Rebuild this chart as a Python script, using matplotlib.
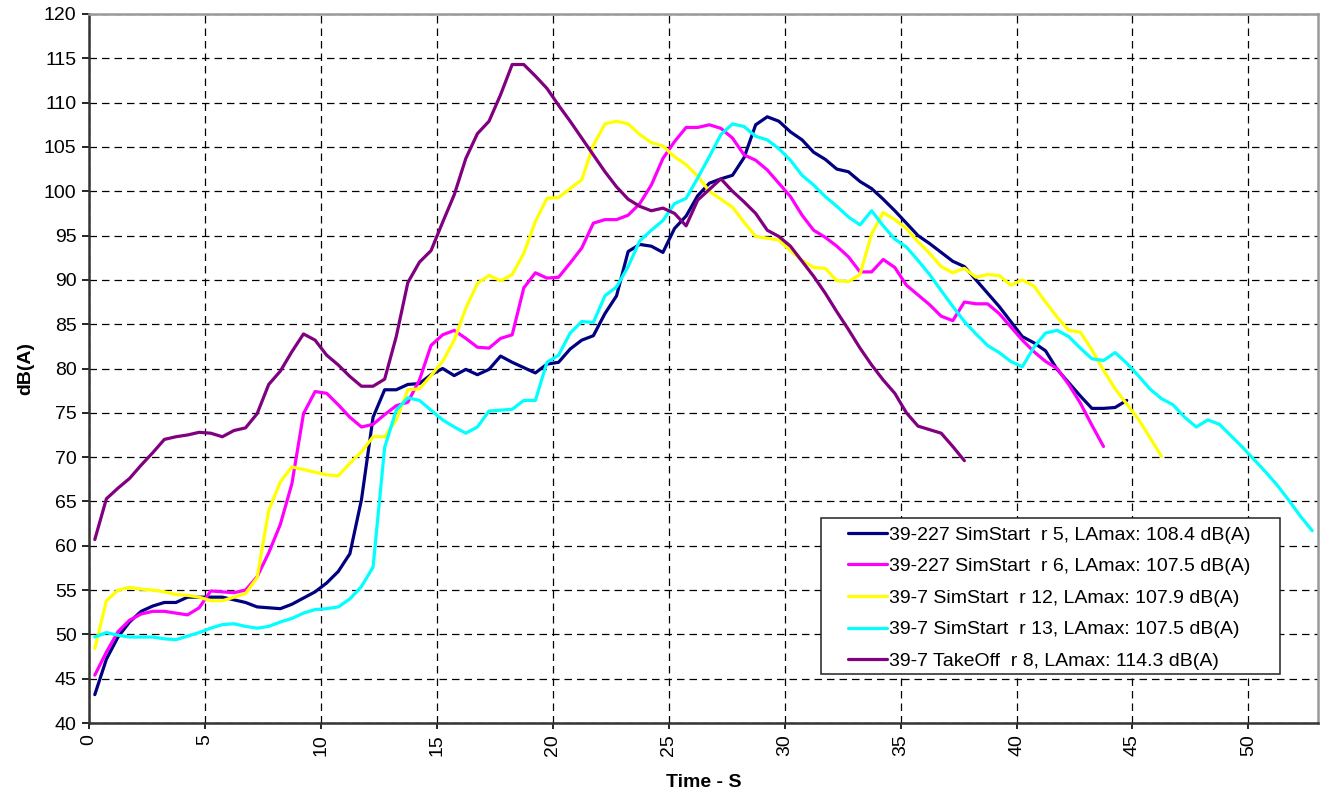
import numpy as np
import matplotlib
matplotlib.use('Agg')
import matplotlib.pyplot as plt
from matplotlib.patches import Rectangle

plt.rcParams['font.family'] = ['Liberation Sans', 'DejaVu Sans']

# samples every 0.5 s, first one at 0.25 s
T0 = 0.25
DT = 0.5

r5_227 = [43.2, 47.2, 49.7, 51.4, 52.6, 53.2, 53.6, 53.6, 54.2, 54.2,
          54.2, 54.2, 53.9, 53.6, 53.1, 53.0, 52.9, 53.4, 54.1, 54.8,
          55.8, 57.1, 59.1, 65.2, 74.5, 77.6, 77.6, 78.2, 78.3, 79.3,
          80.0, 79.2, 79.9, 79.3, 79.9, 81.4, 80.7, 80.1, 79.5, 80.5,
          80.7, 82.2, 83.2, 83.7, 86.2, 88.2, 93.2, 94.0, 93.8, 93.1,
          95.8, 97.2, 99.5, 100.9, 101.4, 101.8, 103.8, 107.5, 108.4, 107.9,
          106.7, 105.8, 104.4, 103.6, 102.5, 102.2, 101.1, 100.3, 99.1, 97.8,
          96.4, 95.0, 94.1, 93.1, 92.1, 91.5, 90.0, 88.5, 87.0, 85.3,
          83.6, 82.9, 82.0, 79.9, 78.4, 76.9, 75.5, 75.5, 75.6, 76.4]

r6_227 = [45.4, 48.0, 50.3, 51.6, 52.3, 52.6, 52.6, 52.4, 52.2, 53.0,
          54.9, 54.8, 54.7, 55.0, 56.5, 59.2, 62.4, 67.0, 74.9, 77.4,
          77.2, 75.9, 74.5, 73.4, 73.7, 74.8, 75.8, 76.2, 78.7, 82.6,
          83.8, 84.3, 83.4, 82.4, 82.3, 83.4, 83.8, 89.1, 90.8, 90.2,
          90.3, 91.9, 93.6, 96.4, 96.8, 96.8, 97.3, 98.6, 100.7, 103.7,
          105.6, 107.2, 107.2, 107.5, 107.1, 106.0, 104.1, 103.5, 102.4, 100.9,
          99.4, 97.3, 95.6, 94.8, 93.8, 92.6, 90.9, 90.9, 92.3, 91.4,
          89.4, 88.3, 87.2, 85.9, 85.4, 87.5, 87.3, 87.3, 86.2, 84.7,
          83.2, 81.9, 80.8, 80.0, 78.2, 76.1, 73.6, 71.2]

r12_7 = [48.4, 53.8, 55.0, 55.3, 55.1, 55.0, 54.8, 54.5, 54.4, 54.2,
         53.8, 53.8, 54.2, 54.6, 56.4, 64.0, 67.2, 68.9, 68.6, 68.3,
         68.0, 67.9, 69.3, 70.6, 72.3, 72.3, 74.2, 77.6, 77.7, 79.2,
         80.8, 83.2, 86.8, 89.6, 90.5, 89.9, 90.6, 93.0, 96.6, 99.2,
         99.3, 100.3, 101.3, 105.2, 107.6, 107.9, 107.6, 106.4, 105.5, 105.1,
         103.9, 103.0, 101.7, 100.0, 99.1, 98.2, 96.5, 94.9, 94.7, 94.5,
         93.3, 92.2, 91.4, 91.3, 89.9, 89.8, 90.6, 95.2, 97.6, 96.8,
         95.8, 94.3, 93.0, 91.5, 90.8, 91.3, 90.3, 90.6, 90.5, 89.4,
         90.0, 89.3, 87.5, 85.8, 84.3, 84.1, 82.1, 79.8, 77.7, 76.0,
         74.3, 72.2, 70.1]

r13_7 = [49.7, 50.2, 49.9, 49.7, 49.7, 49.7, 49.5, 49.4, 49.8, 50.2,
         50.7, 51.1, 51.2, 50.9, 50.7, 50.9, 51.4, 51.8, 52.4, 52.8,
         52.9, 53.1, 54.0, 55.4, 57.6, 71.1, 75.3, 76.7, 76.4, 75.3,
         74.2, 73.4, 72.7, 73.4, 75.2, 75.3, 75.4, 76.4, 76.4, 80.7,
         81.5, 84.0, 85.3, 85.2, 88.2, 89.2, 91.5, 94.4, 95.6, 96.7,
         98.6, 99.2, 101.5, 103.9, 106.4, 107.6, 107.3, 106.2, 105.8, 104.8,
         103.5, 101.8, 100.7, 99.4, 98.3, 97.1, 96.2, 97.8, 96.1, 94.6,
         93.7, 92.2, 90.6, 88.8, 87.0, 85.3, 83.9, 82.6, 81.8, 80.8,
         80.2, 82.4, 84.0, 84.3, 83.6, 82.3, 81.1, 80.9, 81.8, 80.6,
         79.2, 77.7, 76.6, 75.9, 74.5, 73.4, 74.2, 73.7, 72.4, 71.1,
         69.7, 68.3, 66.8, 65.1, 63.3, 61.7]

r8_takeoff = [60.7, 65.3, 66.5, 67.6, 69.1, 70.5, 72.0, 72.3, 72.5, 72.8,
              72.7, 72.3, 73.0, 73.3, 74.9, 78.2, 79.7, 81.9, 83.9, 83.2,
              81.5, 80.4, 79.1, 78.0, 78.0, 78.8, 83.6, 89.7, 92.0, 93.3,
              96.5, 99.6, 103.7, 106.5, 107.9, 110.9, 114.3, 114.3, 113.0, 111.6,
              109.7, 107.9, 106.0, 104.1, 102.2, 100.5, 99.1, 98.3, 97.8, 98.1,
              97.5, 96.1, 99.0, 100.2, 101.4, 100.0, 98.8, 97.5, 95.6, 94.9,
              93.8, 92.1, 90.4, 88.5, 86.4, 84.4, 82.3, 80.4, 78.7, 77.2,
              75.0, 73.5, 73.1, 72.7, 71.2, 69.6]

labels = ['39-227 SimStart  r 5, LAmax: 108.4 dB(A)',
          '39-227 SimStart  r 6, LAmax: 107.5 dB(A)',
          '39-7 SimStart  r 12, LAmax: 107.9 dB(A)',
          '39-7 SimStart  r 13, LAmax: 107.5 dB(A)',
          '39-7 TakeOff  r 8, LAmax: 114.3 dB(A)']
colors = ['#000080', '#FF00FF', '#FFFF00', '#00FFFF', '#800080']
series = [r5_227, r6_227, r12_7, r13_7, r8_takeoff]

W, H = 1322, 789
fig = plt.figure(figsize=(W / 100, H / 100), dpi=100)
ax_l, ax_r, ax_t, ax_b = 89, 1318, 14, 723
ax = fig.add_axes([ax_l / W, 1 - ax_b / H, (ax_r - ax_l) / W, (ax_b - ax_t) / H])

for vals, lab, col in zip(series, labels, colors):
    t = T0 + DT * np.arange(len(vals))
    ax.plot(t, vals, color=col, lw=2.3, label=lab, solid_joinstyle='round',
            solid_capstyle='round')

ax.set_xlim(0, 53)
ax.set_ylim(40, 120)
ax.set_xticks(np.arange(0, 51, 5))
ax.set_yticks(np.arange(40, 121, 5))
ax.tick_params(axis='x', labelrotation=90, labelsize=14, length=4, width=1.2, pad=4)
ax.tick_params(axis='y', labelsize=14, length=5, width=1.2, pad=4)
ax.grid(True, color='black', linestyle=(0, (6, 4)), linewidth=0.9)
ax.set_axisbelow(True)

for side in ['left', 'bottom']:
    ax.spines[side].set_color('#333333')
    ax.spines[side].set_linewidth(1.8)
for side in ['top', 'right']:
    ax.spines[side].set_color('#999999')
    ax.spines[side].set_linewidth(1.8)

ax.set_xlabel('Time - S', fontsize=14, fontweight='bold', labelpad=13)
ax.set_ylabel('dB(A)', fontsize=14, fontweight='bold', labelpad=7)

# legend box drawn separately so the padding can match
bx0, by0, bx1, by1 = 821, 518, 1280, 674
tr = ax.transAxes
fx = lambda px: (px - ax_l) / (ax_r - ax_l)
fy = lambda py: (ax_b - py) / (ax_b - ax_t)
ax.add_patch(Rectangle((fx(bx0), fy(by1)), fx(bx1) - fx(bx0), fy(by0) - fy(by1),
                       transform=tr, facecolor='white', edgecolor='#222222',
                       lw=1.1, zorder=5))
leg = ax.legend(loc='upper left', bbox_to_anchor=(fx(848), fy(526)),
                frameon=False, fontsize=14, handlelength=2.0,
                handletextpad=0.12, labelspacing=0.72, borderpad=0,
                borderaxespad=0)
leg.set_zorder(6)

fig.savefig('out.png', dpi=100)
